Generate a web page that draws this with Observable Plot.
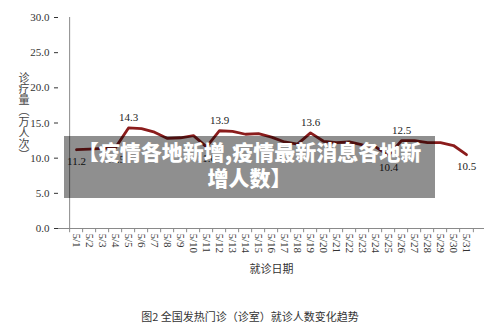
<!DOCTYPE html>
<html>
<head>
<meta charset="utf-8">
<script src="https://cdn.jsdelivr.net/npm/d3@7"></script>
<script src="https://cdn.jsdelivr.net/npm/@observablehq/plot@0.6"></script>
<style>
  html, body { margin: 0; padding: 0; background: #fff; }
  #wrap { position: relative; width: 500px; height: 335px; overflow: hidden; }
  #chart svg { display: block; }
  #overlay {
    position: absolute; left: 64px; top: 136px; width: 371px; height: 62px;
    background: rgba(0,0,0,0.44); color: #fff; text-align: center;
    font-family: "Noto Sans CJK SC", sans-serif; font-weight: 900;
    font-size: 21px; line-height: 26px; padding-top: 2px; box-sizing: border-box;
    white-space: nowrap;
  }
  #caption {
    position: absolute; left: 0; top: 308px; width: 500px; text-align: center;
    font-family: "Noto Sans CJK SC", sans-serif; font-size: 11px; color: #333;
  }
</style>
</head>
<body>
<div id="wrap">
  <div id="chart"></div>
  <div id="overlay">【疫情各地新增,疫情最新消息各地新<br>增人数】</div>
  <div id="caption">图2 全国发热门诊（诊室）就诊人数变化趋势</div>
</div>
<script>
const dates = ["5/1","5/2","5/3","5/4","5/5","5/6","5/7","5/8","5/9","5/10","5/11","5/12","5/13","5/14","5/15","5/16","5/17","5/18","5/19","5/20","5/21","5/22","5/23","5/24","5/25","5/26","5/27","5/28","5/29","5/30","5/31"];
const values = [11.2, 11.3, 11.4, 11.5, 14.3, 14.2, 13.7, 12.8, 12.9, 13.2, 11.6, 13.9, 13.8, 13.4, 13.5, 13.0, 12.3, 12.0, 13.6, 12.4, 12.2, 12.3, 11.9, 11.6, 10.4, 12.5, 12.5, 12.2, 12.2, 11.8, 10.5];
const labelsAbove = ["5/5", "5/12", "5/19", "5/26"];
const labelsBelow = ["5/1", "5/4", "5/11", "5/25", "5/31"];
const yTicks = [0, 5, 10, 15, 20, 25, 30];
const yTitle = "诊\n疗\n量\n︵\n万\n人\n次\n︶";
const xTitle = "就诊日期";

const data = dates.map((d, i) => ({date: d, value: values[i]}));
const above = data.filter(d => labelsAbove.includes(d.date));
const below = data.filter(d => labelsBelow.includes(d.date));

const W = 500, H = 290, mL = 58, mR = 16, mT = 17, mB = 62;
const step = (W - mL - mR) / dates.length;
const lineColor = "#8b1c1c";
const axisColor = "#8a8a8a";

const chart = Plot.plot({
  width: W, height: H,
  marginLeft: mL, marginRight: mR, marginTop: mT, marginBottom: mB,
  style: {fontFamily: "'Liberation Serif', 'Noto Sans CJK SC', serif", fontSize: "11px", color: "#333", background: "#fff"},
  x: {type: "point", domain: dates, padding: 0.5, tickRotate: 90, tickSize: 0, tickPadding: 5,
      label: xTitle, labelAnchor: "center", labelOffset: 44},
  y: {domain: [0, 30], ticks: yTicks, tickFormat: d3.format(".1f"), tickSize: 4, tickPadding: 5, label: null},
  marks: [
    Plot.ruleY([0], {stroke: axisColor}),
    Plot.ruleX([dates[0]], {y1: 0, y2: 30, dx: -step / 2, stroke: axisColor}),
    Plot.ruleX(dates, {y1: 0, y2: -0.6, dx: -step / 2, stroke: axisColor}),
    Plot.ruleX([dates[dates.length - 1]], {y1: 0, y2: -0.6, dx: step / 2, stroke: axisColor}),
    Plot.line(data, {x: "date", y: "value", stroke: lineColor, strokeWidth: 2.8, curve: "linear"}),
    Plot.text(above, {x: "date", y: "value", text: d => d.value.toFixed(1), dy: -10, fontSize: 11, fill: "#222"}),
    Plot.text(below, {x: "date", y: "value", text: d => d.value.toFixed(1), dy: 12, fontSize: 11, fill: "#222"}),
    Plot.text([yTitle], {frameAnchor: "left", dx: -40, dy: -6, text: d => d, fontSize: 11, lineHeight: 1.0, fill: "#444",
      fontFamily: "'Noto Sans CJK SC', sans-serif"})
  ]
});
document.getElementById("chart").appendChild(chart);
</script>
</body>
</html>
